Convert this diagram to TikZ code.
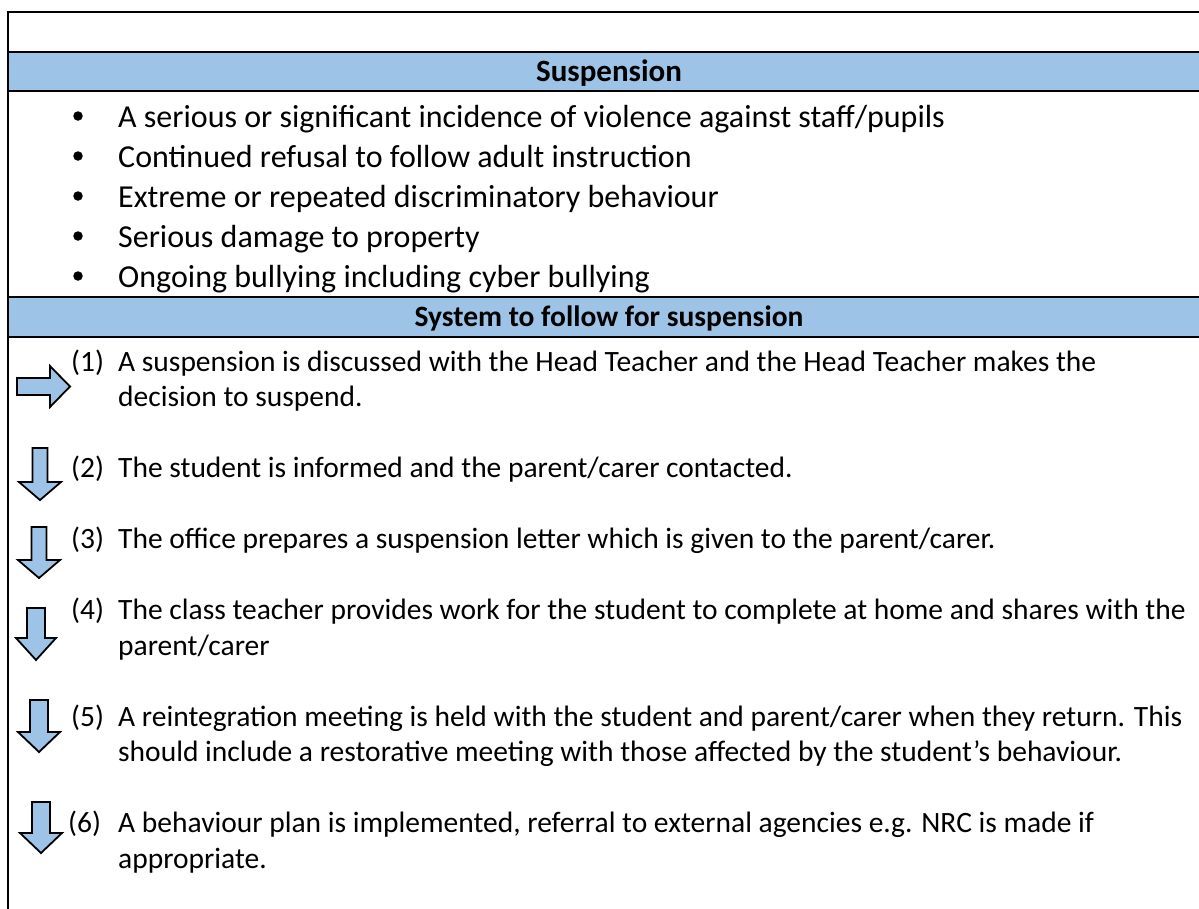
\documentclass[tikz,border=0pt]{standalone}
\usepackage{fontspec}
\setmainfont{Carlito}
\definecolor{bandblue}{HTML}{9DC3E6}
% downward block arrow: centre x, top y, shaft half-width, head base y, tip y, head half-width
\newcommand\stepdown[6]{%
  \draw[arrowshape] ({#1-#3},#2) -- ({#1+#3},#2) -- ({#1+#3},#4) -- ({#1+#6},#4)
    -- (#1,#5) -- ({#1-#6},#4) -- ({#1-#3},#4) -- cycle;}
\begin{document}
\begin{tikzpicture}[x=1pt,y=-1pt,
  rule/.style={line width=2.2pt},
  band/.style={fill=bandblue},
  body/.style={font=\fontsize{29.5}{35}\selectfont, inner sep=0pt, anchor=base west},
  listtext/.style={font=\fontsize{32}{39}\selectfont, inner sep=0pt, anchor=base west},
  headtext/.style={font=\fontsize{29.5}{35}\selectfont\bfseries, inner sep=0pt, anchor=base},
  dot/.style={circle, fill=black, inner sep=0pt, minimum size=9.5pt},
  arrowshape/.style={fill=bandblue, draw=black, line width=1.8pt, line join=miter}]
\useasboundingbox (0,0) rectangle (1199,908);
\begin{scope}
\clip (0,0) rectangle (1199,908);
% header bands
\fill[band] (8,52) rectangle (1210,91);
\fill[band] (8,297) rectangle (1210,337);
% table rules
\draw[rule] (8,915) -- (8,12) -- (1210,12);
\draw[rule] (8,52) -- (1210,52);
\draw[rule] (8,91) -- (1210,91);
\draw[rule] (8,297) -- (1210,297);
\draw[rule] (8,337) -- (1210,337);

% headings
\node[headtext, font=\fontsize{31}{35}\selectfont\bfseries] (h1) at (609,81) {Suspension};
\node[headtext] (h2) at (609,326) {System to follow for suspension};

% bullet list
\foreach \y/\txt [count=\i] in {127/{A serious or significant incidence of violence against staff/pupils},
  167/{Continued refusal to follow adult instruction},
  207/{Extreme or repeated discriminatory behaviour},
  247/{Serious damage to property},
  287/{Ongoing bullying including cyber bullying}}{
  \node[dot] (b\i) at (78,\y-11) {};
  \node[listtext] (l\i) at (118,\y) {\txt};
}

% numbered steps
\node[body] (n1) at (71,371) {(1)};
\node[body] (s1a) at (118,371) {A suspension is discussed with the Head Teacher and the Head Teacher makes the};
\node[body] (s1b) at (118,406.5) {decision to suspend.};

\node[body] (n2) at (71,477.5) {(2)};
\node[body] (s2a) at (118,477.5) {The student is informed and the parent/carer contacted.};

\node[body] (n3) at (71,548.5) {(3)};
\node[body] (s3a) at (118,548.5) {The office prepares a suspension letter which is given to the parent/carer.};

\node[body] (n4) at (71,619.5) {(4)};
\node[body] (s4a) at (118,619.5) {The class teacher provides work for the student to complete at home and shares with the};
\node[body] (s4b) at (118,655) {parent/carer};

\node[body] (n5) at (71,726) {(5)};
\node[body] (s5a) at (118,726) {A reintegration meeting is held with the student and parent/carer when they return. This};
\node[body] (s5b) at (118,761.5) {should include a restorative meeting with those affected by the student’s behaviour.};

\node[body] (n6) at (68,832.5) {(6)};
\node[body] (s6a) at (118,832.5) {A behaviour plan is implemented, referral to external agencies e.g. NRC is made if};
\node[body] (s6b) at (118,868) {appropriate.};

% block arrows
\draw[arrowshape] (17,378) -- (50,378) -- (50,366) -- (70,386.5) -- (50,407)
  -- (50,395) -- (17,395) -- cycle;
\stepdown{40}{448}{7.5}{482}{500}{21}
\stepdown{39}{527}{7.5}{560}{578}{21}
\stepdown{36}{608}{9}{638}{660}{20}
\stepdown{39}{700}{9}{732}{752}{21}
\stepdown{41}{802}{9}{833}{853}{21}
\end{scope}
\end{tikzpicture}
\end{document}
